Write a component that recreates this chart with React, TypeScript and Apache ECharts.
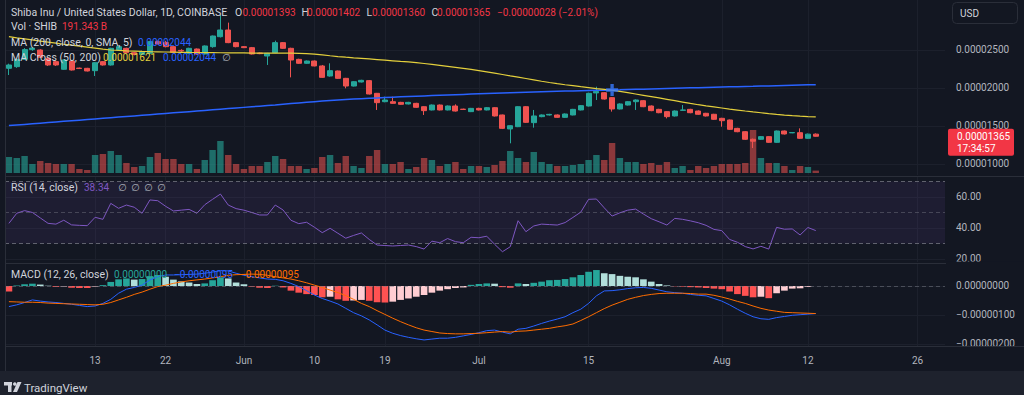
import { useEffect, useRef } from 'react';
import * as echarts from 'echarts';

// All prices below are in units of 1e-8 USD (e.g. 1393 = 0.00001393)
const START_DATE = [2024, 4, 2]; // 2024-05-02
const CATEGORY_COUNT = 120;
const TICK_DATES = ['2024-05-13', '2024-05-22', '2024-06-01', '2024-06-10', '2024-06-19', '2024-07-01', '2024-07-15', '2024-08-01', '2024-08-12', '2024-08-26'];
const TICK_LABELS = ['13', '22', 'Jun', '10', '19', 'Jul', '15', 'Aug', '12', '26'];

const OPEN = [
  2259, 2281, 2377, 2505, 2500, 2390, 2347, 2246, 2355, 2262,
  2259, 2228, 2347, 2303, 2500, 2522, 2465, 2440, 2456, 2610,
  2600, 2544, 2495, 2456, 2513, 2447, 2544, 2675, 2763, 2597,
  2544, 2531, 2460, 2421, 2465, 2597, 2522, 2377, 2325, 2355,
  2290, 2158, 2224, 2127, 2026, 2079, 2097, 1930, 1820, 1820,
  1811, 1790, 1798, 1754, 1711, 1776, 1711, 1763, 1722, 1689,
  1732, 1711, 1741, 1645, 1461, 1491, 1754, 1544, 1623, 1645,
  1645, 1614, 1645, 1711, 1763, 1935, 1938, 1873, 1724, 1776,
  1820, 1833, 1763, 1719, 1689, 1632, 1706, 1719, 1697, 1667,
  1654, 1601, 1579, 1469, 1425, 1325, 1325, 1360, 1285, 1434,
  1410, 1412, 1338, 1393,
];
const HIGH = [
  2320, 2390, 2525, 2535, 2510, 2400, 2355, 2375, 2362, 2268,
  2265, 2340, 2355, 2530, 2560, 2530, 2475, 2490, 2620, 2625,
  2620, 2550, 2510, 2530, 2520, 2560, 2690, 2960, 2860, 2605,
  2552, 2540, 2466, 2462, 2623, 2605, 2530, 2385, 2362, 2362,
  2303, 2325, 2230, 2133, 2090, 2108, 2105, 1935, 1886, 1886,
  1818, 1818, 1805, 1760, 1783, 1783, 1770, 1785, 1728, 1738,
  1740, 1750, 1748, 1650, 1510, 1760, 1762, 1711, 1652, 1660,
  1652, 1665, 1725, 1775, 1938, 2017, 1945, 1880, 1798, 1828,
  1850, 1840, 1770, 1726, 1695, 1705, 1776, 1726, 1705, 1673,
  1660, 1608, 1585, 1476, 1432, 1335, 1368, 1366, 1440, 1440,
  1420, 1469, 1400, 1402,
];
const LOW = [
  2171, 2265, 2370, 2490, 2395, 2290, 2290, 2240, 2230, 2250,
  2218, 2158, 2295, 2295, 2490, 2458, 2430, 2432, 2445, 2575,
  2535, 2460, 2475, 2450, 2440, 2440, 2530, 2665, 2590, 2535,
  2525, 2440, 2445, 2303, 2458, 2515, 2140, 2318, 2318, 2285,
  2135, 2150, 2120, 1996, 2020, 2073, 1915, 1711, 1812, 1792,
  1779, 1784, 1740, 1645, 1705, 1705, 1705, 1690, 1711, 1683,
  1705, 1705, 1625, 1460, 1272, 1485, 1540, 1478, 1615, 1638,
  1608, 1608, 1640, 1705, 1757, 1842, 1848, 1689, 1718, 1770,
  1711, 1748, 1695, 1668, 1600, 1625, 1700, 1668, 1647, 1625,
  1580, 1491, 1449, 1418, 1318, 1210, 1318, 1278, 1278, 1388,
  1405, 1330, 1332, 1360,
];
const CLOSE = [
  2303, 2377, 2505, 2525, 2404, 2303, 2303, 2368, 2237, 2256,
  2224, 2333, 2303, 2522, 2544, 2465, 2440, 2480, 2610, 2580,
  2544, 2469, 2487, 2522, 2447, 2553, 2684, 2763, 2597, 2544,
  2531, 2447, 2452, 2456, 2597, 2522, 2368, 2325, 2355, 2290,
  2140, 2228, 2127, 2026, 2083, 2101, 1921, 1807, 1842, 1798,
  1785, 1811, 1746, 1702, 1776, 1711, 1763, 1697, 1717, 1732,
  1711, 1741, 1632, 1469, 1504, 1754, 1548, 1632, 1645, 1653,
  1614, 1658, 1719, 1768, 1930, 1955, 1855, 1724, 1790, 1820,
  1842, 1754, 1702, 1675, 1623, 1697, 1711, 1675, 1654, 1632,
  1588, 1570, 1456, 1425, 1325, 1300, 1360, 1285, 1434, 1395,
  1414, 1338, 1393, 1365,
];
// Volume in billions of SHIB
const VOLUME_B = [
  1280, 1200, 1360, 720, 960, 800, 720, 720, 720, 320,
  240, 1440, 1520, 1760, 1440, 800, 480, 560, 1280, 1600,
  1120, 1120, 720, 720, 320, 1040, 1840, 2560, 1440, 720,
  320, 560, 560, 880, 1360, 1120, 560, 560, 320, 400,
  1280, 1440, 800, 1360, 560, 400, 1360, 1840, 720, 720,
  880, 320, 480, 1200, 1040, 560, 720, 880, 320, 560,
  560, 480, 640, 960, 1760, 1200, 880, 1680, 880, 720,
  560, 560, 640, 720, 1040, 1440, 1040, 2400, 1200, 880,
  880, 720, 800, 640, 880, 400, 560, 240, 560, 400,
  560, 720, 720, 720, 800, 3440, 1200, 800, 800, 560,
  240, 560, 480, 191.343,
];
const MA200 = [
  1505, 1513, 1521, 1529, 1537, 1545, 1553, 1561, 1569, 1577,
  1585, 1593, 1601, 1609, 1617, 1625, 1633, 1641, 1649, 1657,
  1665, 1673, 1681, 1689, 1697, 1705, 1713, 1721, 1729, 1737,
  1745, 1753, 1761, 1769, 1776, 1786, 1795, 1804, 1812, 1820,
  1828, 1835, 1842, 1848, 1854, 1859, 1864, 1869, 1874, 1879,
  1884, 1888, 1892, 1896, 1900, 1904, 1908, 1912, 1916, 1920,
  1924, 1928, 1932, 1935, 1938, 1941, 1944, 1947, 1950, 1953,
  1956, 1959, 1962, 1965, 1968, 1970, 1972, 1974, 1976, 1979,
  1982, 1985, 1988, 1991, 1994, 1997, 2000, 2002, 2004, 2007,
  2010, 2013, 2015, 2017, 2020, 2022, 2025, 2027, 2030, 2033,
  2036, 2039, 2042, 2044,
];
const MA50 = [
  2675, 2660, 2646, 2632, 2618, 2604, 2590, 2576, 2563, 2550,
  2537, 2524, 2511, 2500, 2494, 2489, 2485, 2481, 2478, 2476,
  2474, 2472, 2470, 2468, 2467, 2466, 2465, 2464, 2463, 2462,
  2461, 2460, 2460, 2459, 2458, 2458, 2458, 2456, 2452, 2445,
  2435, 2424, 2414, 2405, 2397, 2390, 2382, 2374, 2366, 2358,
  2350, 2344, 2334, 2322, 2310, 2298, 2285, 2272, 2258, 2244,
  2228, 2212, 2196, 2178, 2160, 2143, 2125, 2107, 2089, 2072,
  2057, 2043, 2030, 2017, 2005, 1992, 1981, 1970, 1955, 1938,
  1921, 1904, 1887, 1869, 1851, 1833, 1815, 1797, 1780, 1765,
  1751, 1737, 1723, 1710, 1697, 1685, 1674, 1663, 1653, 1644,
  1636, 1629, 1624, 1621,
];
const CROSS_INDEX = 77;
const RSI = [
  43, 49.5, 51.2, 50, 46.5, 43, 42.5, 45, 42, 41.7,
  41.5, 46.9, 45.6, 55.9, 52.7, 54.8, 53.4, 49.5, 58.1, 57.6,
  54, 51, 51.5, 52, 49.5, 55, 58.5, 61.9, 54.8, 52.5,
  51.5, 50, 48.4, 48.4, 54.8, 51.6, 45, 42.8, 43.7, 40.5,
  37, 39.8, 36.6, 33.4, 35.2, 36.8, 32.6, 29, 28.7, 28.4,
  28.7, 29, 28, 26.4, 31.5, 30.5, 33.2, 31.2, 30.5, 34,
  33.7, 34.7, 29.5, 24.7, 27.9, 44.7, 37.6, 41.3, 42.5, 42.2,
  41.9, 43.5, 46.8, 50.2, 58.5, 58.7, 53, 47.7, 49.8, 51.5,
  52.2, 49, 46, 44, 41.9, 46.2, 45.6, 44.6, 43.4, 41.7,
  39.1, 38.3, 32.6, 30.8, 28, 26.5, 28.2, 26.4, 40.4, 39.2,
  39.4, 35.5, 40.3, 38.34,
];
const MACD_LINE = [
  -71, -65, -57, -48, -52, -55, -57, -60, -63, -67,
  -71, -69, -60, -46, -25, -11, -5, 3, 21, 32,
  38, 38, 39, 40, 41, 44, 48, 53, 52, 44,
  37, 32, 28, 24, 23, 18, 9, -2, -16, -31,
  -43, -52, -62, -77, -92, -103, -117, -134, -152, -163,
  -171, -177, -182, -186, -183, -180, -180, -177, -172, -167,
  -161, -154, -152, -159, -165, -149, -146, -138, -129, -121,
  -114, -106, -92, -80, -60, -34, -17, -16, -13, -9,
  -6, -5, -8, -14, -20, -23, -25, -29, -32, -34,
  -43, -52, -65, -80, -94, -106, -113, -115, -109, -105,
  -101, -99, -97, -95,
];
const SIGNAL_LINE = [
  -54, -55, -56, -56, -57, -59, -60, -61, -62, -63,
  -64, -65, -63, -57, -48, -39, -29, -21, -11, -2,
  3, 9, 14, 18, 21, 24, 28, 32, 37, 39,
  40, 41, 40, 37, 32, 28, 24, 18, 11, 3,
  -5, -14, -23, -33, -46, -60, -71, -85, -98, -111,
  -123, -134, -144, -152, -157, -162, -164, -165, -165, -164,
  -163, -161, -159, -157, -159, -156, -155, -152, -149, -146,
  -141, -137, -131, -119, -106, -92, -78, -66, -56, -46,
  -39, -33, -29, -26, -25, -25, -25, -26, -28, -28,
  -32, -38, -45, -53, -60, -69, -77, -83, -87, -91,
  -92, -93, -94, -95,
];
const HIST = [
  -19, 2, 6, 8, 5, 1, -3, -2, -6, -7,
  -7, -2, 3, 14, 23, 26, 22, 24, 34, 38,
  32, 22, 16, 12, 7, 9, 20, 30, 26, 12,
  6, -2, -6, -7, 1, -5, -16, -23, -28, -31,
  -39, -37, -46, -51, -50, -48, -51, -56, -57, -54,
  -48, -43, -37, -31, -23, -16, -11, -7, -5, 4,
  7, 9, 8, -4, -6, 9, 7, 11, 15, 20,
  21, 24, 30, 38, 49, 55, 44, 41, 35, 32,
  30, 23, 15, 7, 2, -1, -2, -4, -5, -7,
  -9, -11, -19, -28, -34, -39, -37, -42, -25, -16,
  -9, -8, -3, 0,
];
const PRICE_TICKS = [1000, 1500, 2000, 2500];
const RSI_TICKS = [20, 40, 60];
const RSI_BANDS = [70, 50, 30];
const MACD_TICKS = [0, -100, -200];
const COUNTDOWN = '17:34:57';

const FONT = 'Roboto, "Noto Sans", "DejaVu Sans", sans-serif';
const BG = '#131722';
const GRID = '#1c202c';
const SEP = '#2a2e39';
const TEXT = '#d1d4dc';
const AXIS_TEXT = '#b2b5be';
const UP = '#26a69a';
const DOWN = '#ef5350';
const RED_TEXT = '#f23645';
const BLUE = '#2962ff';
const YELLOW = '#e3cf3c';
const ORANGE = '#ff6d00';
const PURPLE = '#7e57c2';

const MINUS = '\u2212';
const fmtPrice = (v: number) => (v < 0 ? MINUS : '') + (Math.abs(v) / 1e8).toFixed(8);

function buildDates(): string[] {
  const out: string[] = [];
  const start = Date.UTC(START_DATE[0], START_DATE[1], START_DATE[2]);
  for (let i = 0; i < CATEGORY_COUNT; i++) {
    out.push(new Date(start + i * 86400000).toISOString().slice(0, 10));
  }
  return out;
}

export default function App() {
  const ref = useRef<HTMLDivElement>(null);

  useEffect(() => {
    if (!ref.current) return;
    const chart = echarts.init(ref.current, undefined, { renderer: 'svg' });
    const dates = buildDates();
    const tickMap = new Map<string, string>(TICK_DATES.map((d, i) => [d, TICK_LABELS[i]]));
    const isTick = (_i: number, v: string) => tickMap.has(v);
    const LAST = CLOSE.length - 1;

    const grids = [
      { left: 5, right: 79, top: 0, height: 175 },
      { left: 5, right: 79, top: 123, height: 50 },
      { left: 5, right: 79, top: 177, height: 85 },
      { left: 5, right: 79, top: 264, height: 82 },
    ];

    const xAxes = [0, 1, 2, 3].map((g) => ({
      type: 'category',
      gridIndex: g,
      data: dates,
      boundaryGap: true,
      axisLine: { show: false },
      axisTick: { show: false, alignWithLabel: true, interval: isTick },
      axisLabel:
        g === 3
          ? {
              show: true,
              interval: isTick,
              formatter: (v: string) => tickMap.get(v) || '',
              color: AXIS_TEXT,
              fontSize: 10,
              fontFamily: FONT,
              margin: 9,
            }
          : { show: false },
      splitLine:
        g === 1
          ? { show: false }
          : { show: true, interval: isTick, alignWithLabel: true, lineStyle: { color: GRID, width: 1 } },
    }));

    const yAxisFor = (g: number, min: number, max: number, ticks: number[], fmt: (v: number) => string) => ({
      type: 'value',
      gridIndex: g,
      position: 'right',
      min,
      max,
      axisLine: { show: false },
      axisTick: { show: false, customValues: ticks },
      axisLabel: {
        show: true,
        customValues: ticks,
        formatter: fmt,
        color: AXIS_TEXT,
        fontSize: 10,
        fontFamily: FONT,
        margin: 11,
      },
      splitLine: { show: true, lineStyle: { color: GRID, width: 1 } },
    });

    const histColor = (i: number) => {
      const v = HIST[i];
      const prev = i > 0 ? HIST[i - 1] : 0;
      if (v >= 0) return v >= prev ? '#26a69a' : '#b2dfdb';
      return v <= prev ? '#ff5252' : '#ffcdd2';
    };

    const option = {
      animation: false,
      backgroundColor: BG,
      grid: grids,
      xAxis: xAxes,
      yAxis: [
        yAxisFor(0, 855.2, 3157.9, PRICE_TICKS, fmtPrice),
        { type: 'value', gridIndex: 1, min: 0, max: 4000, show: false, splitLine: { show: false } },
        yAxisFor(2, 18.06, 72.9, RSI_TICKS, (v: number) => v.toFixed(2)),
        yAxisFor(3, -206.9, 75.86, MACD_TICKS, fmtPrice),
      ],
      series: [
        {
          type: 'bar',
          name: 'Volume',
          xAxisIndex: 1,
          yAxisIndex: 1,
          barWidth: '82%',
          z: 1,
          data: VOLUME_B.map((v, i) => ({
            value: v,
            itemStyle: { color: CLOSE[i] >= OPEN[i] ? 'rgba(38,166,154,0.6)' : 'rgba(239,83,80,0.55)' },
          })),
        },
        {
          type: 'candlestick',
          name: 'SHIBUSD',
          xAxisIndex: 0,
          yAxisIndex: 0,
          barWidth: '70%',
          z: 3,
          itemStyle: { color: UP, color0: DOWN, borderColor: UP, borderColor0: DOWN, borderWidth: 1 },
          data: OPEN.map((o, i) => [o, CLOSE[i], LOW[i], HIGH[i]]),
        },
        {
          type: 'line',
          name: 'MA200',
          xAxisIndex: 0,
          yAxisIndex: 0,
          data: MA200,
          showSymbol: false,
          symbol: 'none',
          z: 4,
          lineStyle: { color: BLUE, width: 1.5 },
        },
        {
          type: 'line',
          name: 'MA50',
          xAxisIndex: 0,
          yAxisIndex: 0,
          data: MA50,
          showSymbol: false,
          symbol: 'none',
          z: 4,
          lineStyle: { color: YELLOW, width: 1.2 },
        },
        {
          type: 'scatter',
          name: 'Cross',
          xAxisIndex: 0,
          yAxisIndex: 0,
          symbol: 'path://M3.6,0H6.4V3.6H10V6.4H6.4V10H3.6V6.4H0V3.6H3.6Z',
          symbolSize: 12,
          z: 6,
          itemStyle: { color: '#3a7bff' },
          data: [[CROSS_INDEX, MA200[CROSS_INDEX]]],
        },
        {
          type: 'line',
          name: 'RSI',
          xAxisIndex: 2,
          yAxisIndex: 2,
          data: RSI,
          showSymbol: false,
          symbol: 'none',
          z: 4,
          lineStyle: { color: PURPLE, width: 1 },
          markArea: {
            silent: true,
            itemStyle: { color: 'rgba(126,87,194,0.1)' },
            data: [[{ yAxis: RSI_BANDS[2] }, { yAxis: RSI_BANDS[0] }]],
          },
          markLine: {
            silent: true,
            symbol: ['none', 'none'],
            label: { show: false },
            data: RSI_BANDS.map((b, i) => ({
              yAxis: b,
              lineStyle: { color: i === 1 ? 'rgba(120,123,134,0.45)' : 'rgba(120,123,134,0.75)', type: [4, 3], width: 1 },
            })),
          },
        },
        {
          type: 'bar',
          name: 'Histogram',
          xAxisIndex: 3,
          yAxisIndex: 3,
          barWidth: '85%',
          z: 2,
          data: HIST.map((v, i) => ({ value: v, itemStyle: { color: histColor(i) } })),
          markLine: {
            silent: true,
            symbol: ['none', 'none'],
            label: { show: false },
            data: [{ yAxis: 0, lineStyle: { color: 'rgba(120,123,134,0.5)', type: [4, 3], width: 1 } }],
          },
        },
        {
          type: 'line',
          name: 'MACD',
          xAxisIndex: 3,
          yAxisIndex: 3,
          data: MACD_LINE,
          showSymbol: false,
          symbol: 'none',
          z: 4,
          lineStyle: { color: BLUE, width: 1 },
        },
        {
          type: 'line',
          name: 'Signal',
          xAxisIndex: 3,
          yAxisIndex: 3,
          data: SIGNAL_LINE,
          showSymbol: false,
          symbol: 'none',
          z: 4,
          lineStyle: { color: ORANGE, width: 1 },
        },
      ],
    };

    chart.setOption(option as any);

    const px = chart.convertToPixel({ gridIndex: 0 } as any, [LAST, CLOSE[LAST]]) as number[];
    const py = px ? px[1] : 136;

    const T = (x: number, y: number, text: string, fill: string, size = 10) => ({
      type: 'text',
      x,
      y,
      z: 100,
      silent: true,
      style: { text, fill, font: `${size}px ${FONT}`, textVerticalAlign: 'middle' },
    });
    const L = (x1: number, y1: number, x2: number, y2: number, stroke: string) => ({
      type: 'line',
      z: 60,
      silent: true,
      shape: { x1, y1, x2, y2 },
      style: { stroke, lineWidth: 1 },
    });
    const LBL = 10.5;

    const change = CLOSE[LAST] - CLOSE[LAST - 1];
    const pct = (change / CLOSE[LAST - 1]) * 100;
    const changeText = `${fmtPrice(change)} (${pct < 0 ? MINUS : '+'}${Math.abs(pct).toFixed(2)}%)`;

    const graphics: any[] = [
      // pane separators and borders
      { type: 'rect', z: 90, silent: true, shape: { x: 946, y: 261.5, width: 78, height: 2.5 }, style: { fill: BG } },
      L(5, 176.5, 1024, 176.5, SEP),
      L(5, 263.5, 1024, 263.5, SEP),
      L(5, 346.5, 1024, 346.5, SEP),
      L(5.5, 0, 5.5, 371, SEP),
      { type: 'rect', z: 60, silent: true, shape: { x: 0, y: 371, width: 1024, height: 24 }, style: { fill: '#1e222d' } },
      // TradingView logo
      { type: 'rect', z: 100, silent: true, shape: { x: 4, y: 382, width: 8, height: 3.5 }, style: { fill: TEXT } },
      { type: 'rect', z: 100, silent: true, shape: { x: 8, y: 382, width: 3.5, height: 10 }, style: { fill: TEXT } },
      { type: 'circle', z: 100, silent: true, shape: { cx: 14.8, cy: 384, r: 1.8 }, style: { fill: TEXT } },
      { type: 'polygon', z: 100, silent: true, shape: { points: [[17.5, 382], [21.5, 382], [17, 392], [13, 392]] }, style: { fill: TEXT } },
      T(24, 387.5, 'TradingView', TEXT, 11.5),
      // USD box
      { type: 'rect', z: 100, silent: true, shape: { x: 952.5, y: 2.5, width: 65, height: 21, r: 4 }, style: { fill: BG, stroke: SEP, lineWidth: 1 } },
      T(960, 13.5, 'USD', TEXT, 10),
      // last price label
      { type: 'rect', z: 100, silent: true, shape: { x: 948, y: py - 7.5, width: 66, height: 27, r: 2 }, style: { fill: RED_TEXT } },
      T(957, py + 0.5, fmtPrice(CLOSE[LAST]), '#ffffff', 10),
      T(957, py + 12, COUNTDOWN, '#ffffff', 10),
      // main legend
      T(11, 12, 'Shiba Inu / United States Dollar, 1D, COINBASE', TEXT, LBL),
      T(235, 12, 'O', TEXT, LBL), T(242.5, 12, fmtPrice(OPEN[LAST]), RED_TEXT),
      T(301.5, 12, 'H', TEXT, LBL), T(307, 12, fmtPrice(HIGH[LAST]), RED_TEXT),
      T(366.5, 12, 'L', TEXT, LBL), T(372, 12, fmtPrice(LOW[LAST]), RED_TEXT),
      T(431.5, 12, 'C', TEXT, LBL), T(437, 12, fmtPrice(CLOSE[LAST]), RED_TEXT),
      T(497, 12, changeText, RED_TEXT),
      T(11, 26.5, 'Vol \u00b7 SHIB', TEXT, LBL), T(62, 26.5, `${VOLUME_B[LAST].toFixed(3)} B`, RED_TEXT),
      T(11, 42, 'MA (200, close, 0, SMA, 5)', TEXT, LBL), T(138, 42, fmtPrice(MA200[LAST]), BLUE),
      T(11, 57, 'MA Cross (50, 200)', TEXT, LBL), T(103, 57, fmtPrice(MA50[LAST]), YELLOW),
      T(163, 57, fmtPrice(MA200[LAST]), BLUE), T(222, 57, '\u2205', AXIS_TEXT),
      // RSI legend
      T(11, 187, 'RSI (14, close)', TEXT, LBL), T(84, 187, RSI[LAST].toFixed(2), PURPLE),
      T(118, 187, '\u2205', AXIS_TEXT), T(131, 187, '\u2205', AXIS_TEXT),
      T(144, 187, '\u2205', AXIS_TEXT), T(157, 187, '\u2205', AXIS_TEXT),
      // MACD legend
      T(11, 274, 'MACD (12, 26, close)', TEXT, LBL), T(114, 274, fmtPrice(HIST[LAST]), UP),
      T(174, 274, fmtPrice(MACD_LINE[LAST]), BLUE), T(240, 274, fmtPrice(SIGNAL_LINE[LAST]), ORANGE),
    ];

    chart.setOption({ graphic: graphics } as any);

    return () => {
      chart.dispose();
    };
  }, []);

  return (
    <div
      ref={ref}
      style={{ position: 'fixed', left: 0, top: 0, width: 1024, height: 395, background: BG }}
    />
  );
}
